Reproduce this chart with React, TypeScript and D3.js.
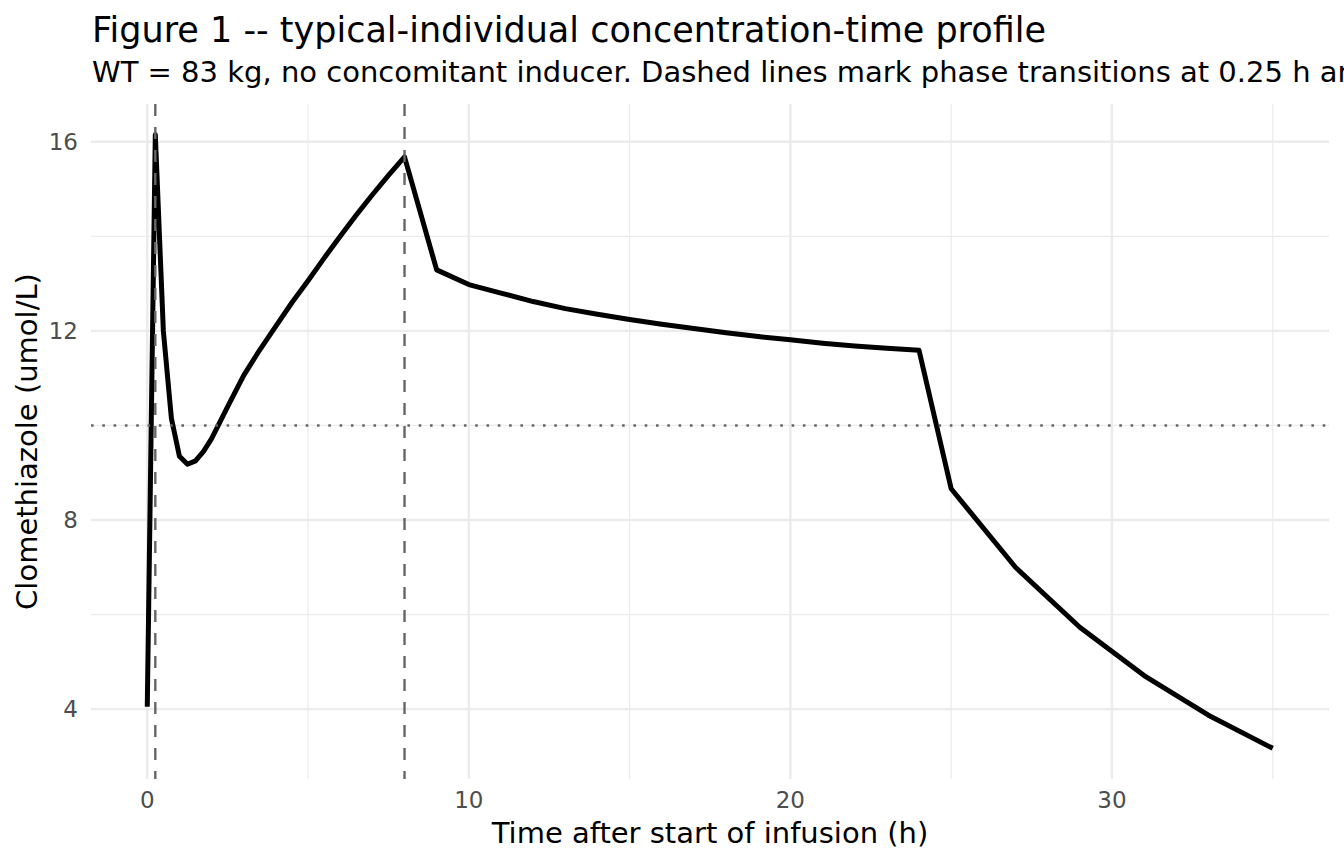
import * as d3 from 'd3';

// concentration-time profile (h, umol/L)
const timeH = [
  0, 0.25, 0.5, 0.75, 1, 1.25, 1.5, 1.75, 2, 2.5, 3, 3.5, 4, 4.5, 5, 5.5, 6, 6.5, 7, 7.5, 8,
  9, 10, 11, 12, 13, 14, 15, 16, 17, 18, 19, 20, 21, 22, 23, 24,
  25, 27, 29, 31, 33, 35,
];
const concUmol = [
  4.05, 16.15, 12.0, 10.15, 9.35, 9.18, 9.25, 9.45, 9.72, 10.4, 11.06, 11.6, 12.1, 12.6, 13.06,
  13.54, 14.0, 14.45, 14.88, 15.29, 15.68,
  13.29, 12.98, 12.8, 12.62, 12.47, 12.35, 12.24, 12.14, 12.05, 11.96, 11.88, 11.81, 11.74, 11.68,
  11.63, 11.59,
  8.66, 7.0, 5.73, 4.71, 3.87, 3.17,
];
const phaseTimes = [0.25, 8];
const thresholdConc = [10];
const xMajor = [0, 10, 20, 30];
const xMinor = [5, 15, 25, 35];
const yMajor = [4, 8, 12, 16];
const yMinor = [6, 10, 14];

const title = 'Figure 1 -- typical-individual concentration-time profile';
const subtitle =
  'WT = 83 kg, no concomitant inducer. Dashed lines mark phase transitions at 0.25 h and 8 h; dotted line marks the 10 umol/L threshold.';

const W = 1344;
const H = 864;
const panel = { left: 91, right: 1329, top: 104, bottom: 779 };
const FONT = '"DejaVu Sans", Verdana, sans-serif';

export default function App() {
  const data = timeH.map((t, i) => [t, concUmol[i]] as [number, number]);

  const xExt = d3.extent(timeH) as [number, number];
  const yExt = d3.extent(concUmol) as [number, number];
  const xPad = (xExt[1] - xExt[0]) * 0.05;
  const yPad = (yExt[1] - yExt[0]) * 0.05;

  const x = d3
    .scaleLinear()
    .domain([xExt[0] - xPad, xExt[1] + xPad])
    .range([panel.left, panel.right]);
  const y = d3
    .scaleLinear()
    .domain([yExt[0] - yPad, yExt[1] + yPad])
    .range([panel.bottom, panel.top]);

  const line = d3
    .line<[number, number]>()
    .x((d) => x(d[0]))
    .y((d) => y(d[1]));

  const inY = (v: number) => v >= y.domain()[0] && v <= y.domain()[1];
  const inX = (v: number) => v >= x.domain()[0] && v <= x.domain()[1];

  return (
    <svg
      width={W}
      height={H}
      style={{ position: 'absolute', left: 0, top: 0, background: '#fff', overflow: 'hidden' }}
      fontFamily={FONT}
    >
      <rect width={W} height={H} fill="#fff" />

      {/* grid */}
      <g>
        {yMinor.filter(inY).map((v) => (
          <line key={`ym${v}`} x1={panel.left} x2={panel.right} y1={y(v)} y2={y(v)} stroke="#ebebeb" strokeWidth={1.2} />
        ))}
        {xMinor.filter(inX).map((v) => (
          <line key={`xm${v}`} x1={x(v)} x2={x(v)} y1={panel.top} y2={panel.bottom} stroke="#ebebeb" strokeWidth={1.2} />
        ))}
        {yMajor.map((v) => (
          <line key={`yM${v}`} x1={panel.left} x2={panel.right} y1={y(v)} y2={y(v)} stroke="#ebebeb" strokeWidth={2.4} />
        ))}
        {xMajor.map((v) => (
          <line key={`xM${v}`} x1={x(v)} x2={x(v)} y1={panel.top} y2={panel.bottom} stroke="#ebebeb" strokeWidth={2.4} />
        ))}
      </g>

      <path d={line(data)!} fill="none" stroke="#000" strokeWidth={5} strokeLinejoin="round" />

      {/* reference lines, drawn over the curve */}
      {phaseTimes.map((t) => (
        <line
          key={`ph${t}`}
          x1={x(t)}
          x2={x(t)}
          y1={panel.top}
          y2={panel.bottom}
          stroke="#666666"
          strokeWidth={2.4}
          strokeDasharray="12,11"
        />
      ))}
      {thresholdConc.map((c) => (
        <line
          key={`th${c}`}
          x1={panel.left}
          x2={panel.right}
          y1={y(c)}
          y2={y(c)}
          stroke="#666666"
          strokeWidth={2.6}
          strokeDasharray="2.6,8.7"
        />
      ))}

      {/* axes labels */}
      {xMajor.map((v) => (
        <text key={`xl${v}`} x={x(v)} y={808} textAnchor="middle" fontSize={23} fill="#4d4d4d">
          {v}
        </text>
      ))}
      {yMajor.map((v) => (
        <text key={`yl${v}`} x={78} y={y(v) + 8} textAnchor="end" fontSize={23} fill="#4d4d4d">
          {v}
        </text>
      ))}

      <text x={(panel.left + panel.right) / 2} y={843} textAnchor="middle" fontSize={29} fill="#000">
        Time after start of infusion (h)
      </text>
      <text
        transform={`translate(37,${(panel.top + panel.bottom) / 2}) rotate(-90)`}
        textAnchor="middle"
        fontSize={29}
        fill="#000"
      >
        Clomethiazole (umol/L)
      </text>

      <text x={92} y={42} fontSize={35} fill="#000">
        {title}
      </text>
      <text x={92} y={82} fontSize={29} fill="#000">
        {subtitle}
      </text>
    </svg>
  );
}
